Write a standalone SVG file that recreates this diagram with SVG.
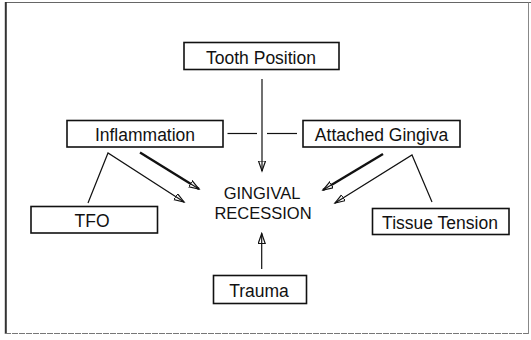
<svg xmlns="http://www.w3.org/2000/svg" width="531" height="340" viewBox="0 0 531 340">
<style>
.box{fill:#fff;stroke:#111;stroke-width:1.6}
.lbl{font-family:"Liberation Sans",Arial,sans-serif;font-size:17.5px;fill:#111;text-anchor:middle}
.ctr{font-family:"Liberation Sans",Arial,sans-serif;font-size:16.5px;fill:#111;text-anchor:middle}
.thin{stroke:#111;stroke-width:1.2;fill:none}
.thick{stroke:#111;stroke-width:2.4;fill:none}
</style>
<defs>
<marker id="ah" markerUnits="userSpaceOnUse" markerWidth="12" markerHeight="9" refX="10" refY="4" orient="auto">
<path d="M0,0.5 L10,4 L0,7.5 Z" fill="#fff" stroke="#111" stroke-width="1.2"/>
<path d="M0,4 L10,4" stroke="#111" stroke-width="1.2"/>
</marker>
</defs>
<rect width="531" height="340" fill="#fff"/>
<g id="frame">
<line x1="5.5" y1="2.5" x2="531" y2="2.5" stroke="#666" stroke-width="1.2"/>
<line x1="5.8" y1="2" x2="5.8" y2="334" stroke="#333" stroke-width="2"/>
<line x1="5" y1="333.5" x2="528" y2="333.5" stroke="#777" stroke-width="1.2" stroke-dasharray="6 1"/>
<line x1="528.5" y1="2.5" x2="528.5" y2="334" stroke="#888" stroke-width="1"/>
</g>
<g id="connectors">
<line class="thin" x1="262" y1="79" x2="262" y2="171" marker-end="url(#ah)"/>
<line class="thin" x1="227.5" y1="133.5" x2="257" y2="133.5" stroke-width="1.4"/>
<line class="thin" x1="267" y1="133.5" x2="297" y2="133.5" stroke-width="1.4"/>
<polyline class="thin" points="88,203 108,153 184,202" marker-end="url(#ah)"/>
<line class="thick" x1="140" y1="152.5" x2="199" y2="189" marker-end="url(#ah)"/>
<line class="thick" x1="383" y1="154" x2="323" y2="190" marker-end="url(#ah)"/>
<polyline class="thin" points="432,202 412,155 335,203" marker-end="url(#ah)"/>
<line class="thin" x1="261.7" y1="269" x2="261.7" y2="233.5" marker-end="url(#ah)"/>
</g>
<g id="tooth-position">
<rect class="box" x="184" y="42.5" width="155" height="27"/>
<text class="lbl" x="261" y="64">Tooth Position</text>
</g>
<g id="inflammation">
<rect class="box" x="67" y="120.5" width="156" height="26.5"/>
<text class="lbl" x="145" y="141">Inflammation</text>
</g>
<g id="attached-gingiva">
<rect class="box" x="303" y="120.5" width="157" height="26.5"/>
<text class="lbl" x="381.5" y="141">Attached Gingiva</text>
</g>
<g id="tfo">
<rect class="box" x="31" y="206.5" width="126.5" height="26.5"/>
<text class="lbl" x="92" y="227">TFO</text>
</g>
<g id="tissue-tension">
<rect class="box" x="372.5" y="208.5" width="136.5" height="26"/>
<text class="lbl" x="440" y="228.5">Tissue Tension</text>
</g>
<g id="trauma">
<rect class="box" x="213.5" y="275.5" width="93" height="28"/>
<text class="lbl" x="259" y="297">Trauma</text>
</g>
<g id="gingival-recession">
<text class="ctr" x="262" y="198.5">GINGIVAL</text>
<text class="ctr" x="263" y="218.5">RECESSION</text>
</g>
</svg>
